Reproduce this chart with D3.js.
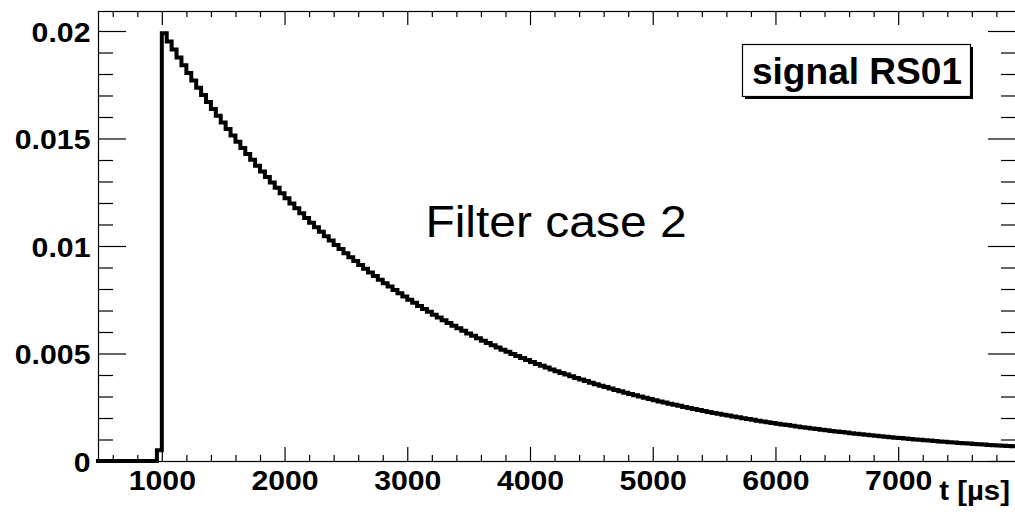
<!DOCTYPE html>
<html>
<head>
<meta charset="utf-8">
<script src="https://cdn.jsdelivr.net/npm/d3@7"></script>
<style>
  html, body { margin: 0; padding: 0; background: #fff; }
  svg { display: block; }
</style>
</head>
<body>
<svg id="chart" width="1015" height="512"></svg>
<script>
// ---- data ----
const binWidth = 40;               // µs per histogram bin
const firstBinStart = 480;         // µs, left edge of the first bin
// bins 480 .. 960 (before the pulse), then the 960-1000 bin
const preValues = [0, 0, 0, 0, 0, 0, 0, 0, 0, 0, 0, 0, 0.0005];
// bins from 1000 µs on (40 µs each)
const signalValues = [
  0.019900, 0.019515, 0.019138, 0.018769, 0.018406, 0.018050, 0.017701, 0.017359, 0.017024, 0.016695,
  0.016372, 0.016056, 0.015745, 0.015441, 0.015143, 0.014850, 0.014563, 0.014282, 0.014006, 0.013735,
  0.013470, 0.013210, 0.012955, 0.012704, 0.012459, 0.012218, 0.011982, 0.011750, 0.011523, 0.011301,
  0.011082, 0.010868, 0.010658, 0.010452, 0.010250, 0.010052, 0.009858, 0.009667, 0.009480, 0.009297,
  0.009118, 0.008942, 0.008769, 0.008600, 0.008433, 0.008270, 0.008111, 0.007954, 0.007800, 0.007649,
  0.007502, 0.007357, 0.007215, 0.007075, 0.006939, 0.006805, 0.006673, 0.006544, 0.006418, 0.006294,
  0.006172, 0.006053, 0.005936, 0.005821, 0.005709, 0.005598, 0.005490, 0.005384, 0.005280, 0.005178,
  0.005078, 0.004980, 0.004884, 0.004789, 0.004697, 0.004606, 0.004517, 0.004430, 0.004344, 0.004260,
  0.004178, 0.004097, 0.004018, 0.003940, 0.003864, 0.003790, 0.003716, 0.003645, 0.003574, 0.003505,
  0.003437, 0.003371, 0.003305, 0.003242, 0.003179, 0.003118, 0.003057, 0.002998, 0.002940, 0.002883,
  0.002828, 0.002773, 0.002720, 0.002667, 0.002616, 0.002565, 0.002516, 0.002467, 0.002419, 0.002373,
  0.002327, 0.002282, 0.002238, 0.002195, 0.002152, 0.002111, 0.002070, 0.002030, 0.001991, 0.001952,
  0.001914, 0.001877, 0.001841, 0.001805, 0.001770, 0.001736, 0.001703, 0.001670, 0.001637, 0.001606,
  0.001575, 0.001545, 0.001515, 0.001485, 0.001457, 0.001429, 0.001401, 0.001374, 0.001347, 0.001321,
  0.001296, 0.001271, 0.001246, 0.001222, 0.001199, 0.001176, 0.001153, 0.001131, 0.001109, 0.001087,
  0.001066, 0.001045, 0.001025, 0.001005, 0.000986, 0.000967, 0.000948, 0.000930, 0.000912, 0.000894,
  0.000877, 0.000860, 0.000843, 0.000827, 0.000811, 0.000795, 0.000780, 0.000765, 0.000750, 0.000736,
  0.000722, 0.000708, 0.000694, 0.000681
];
const xDomain = [480, 7960];
const yDomain = [0, 0.02093];
const xMajorTicks = [1000, 2000, 3000, 4000, 5000, 6000, 7000];
const xTickLabels = ["1000", "2000", "3000", "4000", "5000", "6000", "7000"];
const yMajorTicks = [0, 0.005, 0.01, 0.015, 0.02];
const yTickLabels = ["0", "0.005", "0.01", "0.015", "0.02"];
const xTitle = "t [\u00b5s]";
const legendText = "signal RS01";
const noteText = "Filter case 2";

(function draw() {
  // ---- layout ----
  const pL = 98, pR = 1016, pT = 11, pB = 461;
  const svg = d3.select("#chart");

  const x = d3.scaleLinear().domain(xDomain).range([pL, pR]);
  const y = d3.scaleLinear().domain(yDomain).range([pB, pT]);

  const allValues = preValues.concat(signalValues);
  const pts = allValues.map((v, i) => [firstBinStart + i * binWidth, v]);
  pts.push([firstBinStart + allValues.length * binWidth, allValues[allValues.length - 1]]);

  const xMinor = d3.range(600, 7960, 200).filter(t => t % 1000 !== 0);
  const yMinor = d3.range(1, 21).filter(k => k % 5 !== 0).map(k => k * 0.001);

  const fontFam = "'Liberation Sans', Arial, Helvetica, sans-serif";

  function styleAxis(g) {
    g.select(".domain").remove();
    g.selectAll(".tick line").attr("stroke", "#000").attr("stroke-width", 1.2);
  }

  // bottom axis
  const gxB = svg.append("g").attr("transform", `translate(0,${pB})`)
    .call(d3.axisBottom(x).tickValues(xMajorTicks)
      .tickFormat((d, i) => xTickLabels[i]).tickSize(-14).tickPadding(9).tickSizeOuter(0));
  styleAxis(gxB);
  gxB.selectAll("text").attr("font-family", fontFam).attr("font-weight", "bold")
    .attr("font-size", 28).attr("fill", "#000").attr("transform", "scale(1.08,1)");
  svg.append("g").attr("transform", `translate(0,${pB})`)
    .call(d3.axisBottom(x).tickValues(xMinor).tickFormat("").tickSize(-6).tickSizeOuter(0))
    .call(styleAxis);
  // top axis
  svg.append("g").attr("transform", `translate(0,${pT})`)
    .call(d3.axisTop(x).tickValues(xMajorTicks).tickFormat("").tickSize(-14).tickSizeOuter(0))
    .call(styleAxis);
  svg.append("g").attr("transform", `translate(0,${pT})`)
    .call(d3.axisTop(x).tickValues(xMinor).tickFormat("").tickSize(-6).tickSizeOuter(0))
    .call(styleAxis);

  // left axis
  const gyL = svg.append("g").attr("transform", `translate(${pL},0)`)
    .call(d3.axisLeft(y).tickValues(yMajorTicks)
      .tickFormat((d, i) => yTickLabels[i]).tickSize(-28).tickPadding(7).tickSizeOuter(0));
  styleAxis(gyL);
  gyL.selectAll("text").attr("font-family", fontFam).attr("font-weight", "bold")
    .attr("font-size", 28).attr("fill", "#000").attr("dy", "0.37em")
    .attr("transform", "scale(1.08,1)");
  svg.append("g").attr("transform", `translate(${pL},0)`)
    .call(d3.axisLeft(y).tickValues(yMinor).tickFormat("").tickSize(-15).tickSizeOuter(0))
    .call(styleAxis);
  // right axis
  svg.append("g").attr("transform", `translate(${pR},0)`)
    .call(d3.axisRight(y).tickValues(yMajorTicks).tickFormat("").tickSize(-28).tickSizeOuter(0))
    .call(styleAxis);
  svg.append("g").attr("transform", `translate(${pR},0)`)
    .call(d3.axisRight(y).tickValues(yMinor).tickFormat("").tickSize(-15).tickSizeOuter(0))
    .call(styleAxis);

  // frame
  svg.append("rect")
    .attr("x", pL + 0.5).attr("y", pT + 0.5)
    .attr("width", pR - pL).attr("height", pB - pT)
    .attr("fill", "none").attr("stroke", "#000").attr("stroke-width", 1.2);

  // histogram
  const line = d3.line().x(d => x(d[0])).y(d => y(d[1])).curve(d3.curveStepAfter);
  svg.append("path").datum(pts)
    .attr("d", line)
    .attr("fill", "none").attr("stroke", "#000")
    .attr("stroke-width", 4).attr("stroke-linejoin", "miter").attr("stroke-linecap", "square");

  // x axis title
  svg.append("text")
    .attr("transform", "translate(1010,500) scale(1.05,1)")
    .attr("text-anchor", "end")
    .attr("font-family", fontFam).attr("font-weight", "bold").attr("font-size", 28)
    .attr("fill", "#000")
    .text(xTitle);

  // legend box with shadow
  const bx = 742, by = 44, bw = 228, bh = 52;
  svg.append("rect").attr("x", bx + 3).attr("y", by + 3).attr("width", bw).attr("height", bh).attr("fill", "#000");
  svg.append("rect").attr("x", bx + 0.5).attr("y", by + 0.5).attr("width", bw).attr("height", bh)
    .attr("fill", "#fff").attr("stroke", "#000").attr("stroke-width", 1.2);
  svg.append("text")
    .attr("transform", `translate(${bx + bw / 2 + 1},84) scale(1.03,1)`)
    .attr("text-anchor", "middle")
    .attr("font-family", fontFam).attr("font-weight", "bold").attr("font-size", 36)
    .attr("fill", "#000")
    .text(legendText);

  // annotation
  svg.append("text")
    .attr("transform", `translate(556,237) scale(1.09,1)`)
    .attr("text-anchor", "middle")
    .attr("font-family", fontFam).attr("font-size", 44)
    .attr("fill", "#000")
    .text(noteText);
})();
</script>
</body>
</html>
